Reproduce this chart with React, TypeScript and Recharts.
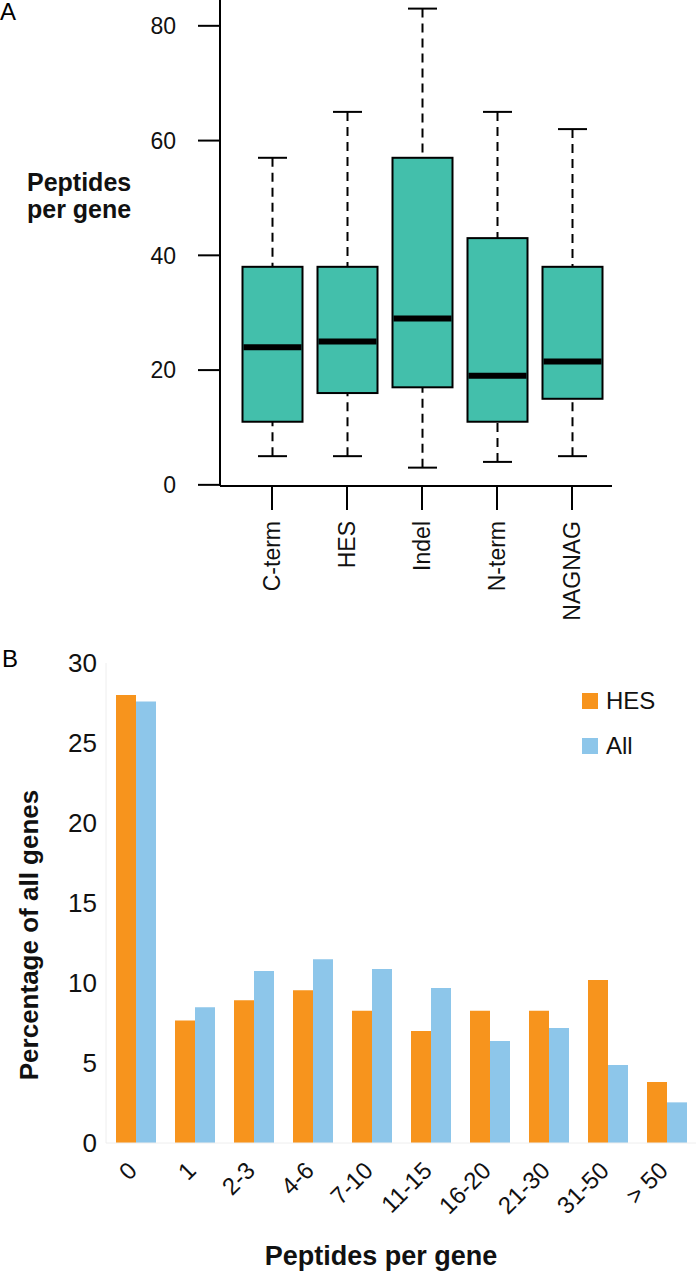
import React from 'react';
import { ComposedChart, BarChart, Bar, XAxis, YAxis, Legend, Label } from 'recharts';

// panel A: box plot of peptides per gene
const groups = ['C-term', 'HES', 'Indel', 'N-term', 'NAGNAG'];
const whiskerLow = [5, 5, 3, 4, 5];
const lowerQuartile = [11, 16, 17, 11, 15];
const medians = [24, 25, 29, 19, 21.5];
const upperQuartile = [38, 38, 57, 43, 38];
const whiskerHigh = [57, 65, 83, 65, 62];
const boxTicks = [0, 20, 40, 60, 80];

// panel B: distribution of peptides per gene
const bins = ['0', '1', '2-3', '4-6', '7-10', '11-15', '16-20', '21-30', '31-50', '> 50'];
const hesPct = [28.0, 7.65, 8.92, 9.54, 8.27, 7.0, 8.27, 8.27, 10.19, 3.81];
const allPct = [27.6, 8.48, 10.75, 11.48, 10.88, 9.69, 6.37, 7.19, 4.87, 2.54];
const pctTicks = [0, 5, 10, 15, 20, 25, 30];
const legendOrder = ['HES', 'All'];

const FONT = '"Liberation Sans", Arial, sans-serif';
const TEAL = '#43BFAB';
const ORANGE = '#F7941D';
const BLUE = '#8DC6EA';

const boxData = groups.map((name, i) => ({
  name,
  range: [whiskerLow[i], whiskerHigh[i]],
  q1: lowerQuartile[i],
  median: medians[i],
  q3: upperQuartile[i],
}));

const histData = bins.map((bin, i) => ({ bin, HES: hesPct[i], All: allPct[i] }));

const BoxShape = (props: any) => {
  const { x, y, width, height, payload } = props;
  const top = Math.min(y, y + height);
  const h = Math.abs(height);
  const [lo, hi] = payload.range;
  const py = (v: number) => top + (h * (hi - v)) / (hi - lo);
  const cx = x + width / 2;
  const cap = 14.5;
  return (
    <g>
      <line x1={cx} x2={cx} y1={py(hi)} y2={py(payload.q3)} stroke="#000" strokeWidth={2} strokeDasharray="9 6" />
      <line x1={cx} x2={cx} y1={py(lo)} y2={py(payload.q1)} stroke="#000" strokeWidth={2} strokeDasharray="9 6" />
      <line x1={cx - cap} x2={cx + cap} y1={py(hi)} y2={py(hi)} stroke="#000" strokeWidth={2} />
      <line x1={cx - cap} x2={cx + cap} y1={py(lo)} y2={py(lo)} stroke="#000" strokeWidth={2} />
      <rect
        x={x}
        y={py(payload.q3)}
        width={width}
        height={py(payload.q1) - py(payload.q3)}
        fill={TEAL}
        stroke="#000"
        strokeWidth={2}
      />
      <line x1={x + 1} x2={x + width - 1} y1={py(payload.median)} y2={py(payload.median)} stroke="#000" strokeWidth={6} />
    </g>
  );
};

const GroupTick = ({ x, y, payload }: any) => (
  <text
    x={x + 8}
    y={y}
    transform={`rotate(-90, ${x + 8}, ${y})`}
    textAnchor="end"
    fontSize={23}
    fontFamily={FONT}
    fill="#111"
  >
    {payload.value}
  </text>
);

const BinTick = ({ x, y, payload }: any) => (
  <text
    x={x + 3}
    y={y + 29}
    transform={`rotate(-45, ${x + 3}, ${y + 29})`}
    textAnchor="end"
    fontSize={24}
    fontFamily={FONT}
    fill="#111"
  >
    {payload.value}
  </text>
);

const LegendBox = ({ payload }: any) => {
  const items = [...(payload || [])].sort(
    (a: any, b: any) => legendOrder.indexOf(a.value) - legendOrder.indexOf(b.value)
  );
  return (
    <div style={{ fontFamily: FONT }}>
      {items.map((p: any) => (
        <div key={p.value} style={{ display: 'flex', alignItems: 'flex-end', height: 45 }}>
          <span style={{ width: 16, height: 16, background: p.color, marginRight: 8, marginBottom: 4 }} />
          <span style={{ fontSize: 24, lineHeight: '24px', color: '#111' }}>{p.value}</span>
        </div>
      ))}
    </div>
  );
};

export default function App() {
  return (
    <div style={{ position: 'absolute', left: 0, top: 0, width: 696, height: 1274, background: '#fff', fontFamily: FONT }}>
      <div style={{ position: 'absolute', left: 0, top: 0, fontSize: 24, lineHeight: '24px' }}>A</div>
      <div style={{ position: 'absolute', left: 0, top: 0 }}>
        <ComposedChart width={696} height={640} data={boxData} margin={{ top: 0, right: 84, bottom: 0, left: 0 }}>
          <XAxis
            dataKey="name"
            interval={0}
            padding={{ left: 14.5, right: 2.5 }}
            height={154}
            axisLine={{ stroke: '#000', strokeWidth: 2 }}
            tickLine={{ stroke: '#000', strokeWidth: 2 }}
            tickSize={24}
            tickMargin={11}
            tick={<GroupTick />}
          />
          <YAxis
            type="number"
            domain={[-0.2, 84.5]}
            ticks={boxTicks}
            width={220}
            axisLine={{ stroke: '#000', strokeWidth: 2 }}
            tickLine={{ stroke: '#000', strokeWidth: 2 }}
            tickSize={22}
            tickMargin={22}
            tick={{ fontSize: 23, fill: '#111', fontFamily: FONT }}
          >
            <Label
              content={() => (
                <text fontFamily={FONT} fontWeight="bold" fontSize={25} fill="#111">
                  <tspan x={27} y={191}>Peptides</tspan>
                  <tspan x={27} y={218}>per gene</tspan>
                </text>
              )}
            />
          </YAxis>
          <Bar dataKey="range" barSize={60} shape={<BoxShape />} isAnimationActive={false} />
        </ComposedChart>
      </div>

      <div style={{ position: 'absolute', left: 2, top: 647, fontSize: 24, lineHeight: '24px' }}>B</div>
      <div style={{ position: 'absolute', left: 0, top: 600 }}>
        <BarChart width={696} height={674} data={histData} margin={{ top: 63, right: 0, bottom: 0, left: 0 }} barGap={0} barSize={20}>
          <XAxis
            dataKey="bin"
            interval={0}
            height={131}
            axisLine={{ stroke: '#eeeeee' }}
            tickLine={false}
            tickSize={0}
            tickMargin={0}
            tick={<BinTick />}
          >
            <Label
              content={() => (
                <text x={381} y={665} textAnchor="middle" fontFamily={FONT} fontWeight="bold" fontSize={27} fill="#111">
                  Peptides per gene
                </text>
              )}
            />
          </XAxis>
          <YAxis
            type="number"
            domain={[0, 30]}
            ticks={pctTicks}
            width={106}
            axisLine={{ stroke: '#eeeeee' }}
            tickLine={false}
            tickSize={0}
            tickMargin={9}
            tick={{ fontSize: 26, fill: '#111', fontFamily: FONT }}
          >
            <Label
              content={() => (
                <text
                  x={38}
                  y={335}
                  transform="rotate(-90, 38, 335)"
                  textAnchor="middle"
                  fontFamily={FONT}
                  fontWeight="bold"
                  fontSize={26}
                  fill="#111"
                >
                  Percentage of all genes
                </text>
              )}
            />
          </YAxis>
          <Legend
            layout="vertical"
            align="center"
            verticalAlign="middle"
            wrapperStyle={{ left: 582, top: 68, width: 110 }}
            content={<LegendBox />}
          />
          <Bar dataKey="HES" fill={ORANGE} isAnimationActive={false} />
          <Bar dataKey="All" fill={BLUE} isAnimationActive={false} />
        </BarChart>
      </div>
    </div>
  );
}
